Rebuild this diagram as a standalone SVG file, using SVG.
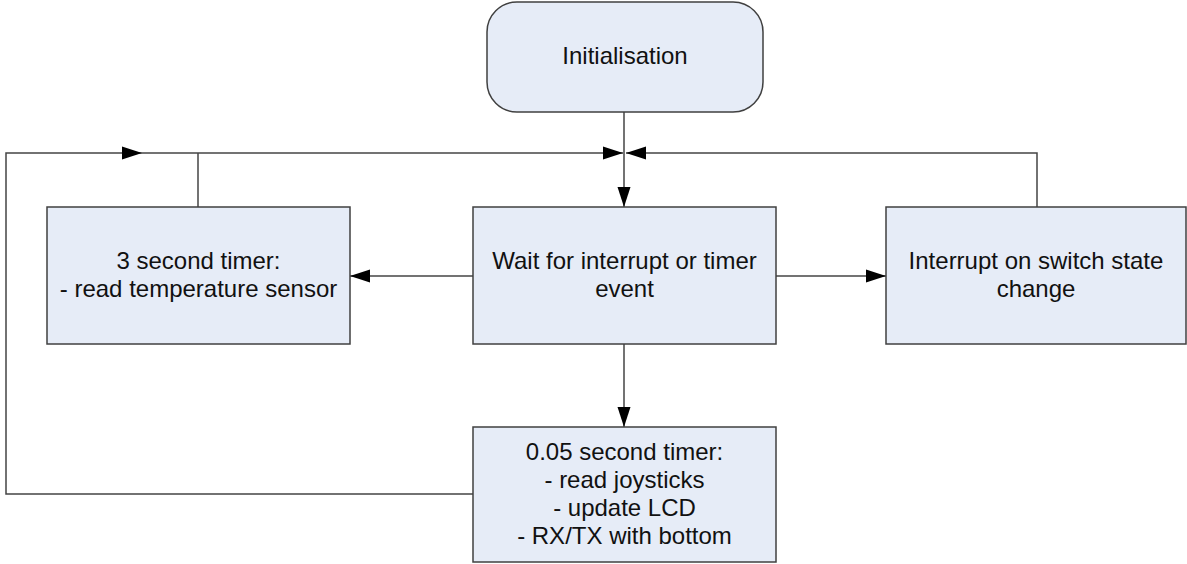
<svg xmlns="http://www.w3.org/2000/svg" width="1187" height="564" viewBox="0 0 1187 564">
<style>
.box{fill:#E6ECF7;stroke:#404040;stroke-width:1.5}
.conn{fill:none;stroke:#444;stroke-width:1.5}
.t{font-family:"Liberation Sans",Arial,sans-serif;font-size:24px;fill:#111;text-anchor:middle}
</style>
<defs>
<marker id="ah" markerUnits="userSpaceOnUse" markerWidth="20" markerHeight="14" refX="20" refY="6.5" orient="auto" viewBox="0 0 20 13">
<path d="M0,0 L20,6.5 L0,13 z" fill="#000"/>
</marker>
</defs>
<rect width="1187" height="564" fill="#fff"/>
<g id="connectors">
<path class="conn" d="M624,112 V207" marker-end="url(#ah)"/>
<path class="conn" d="M473,494 H6 V153 H142" marker-end="url(#ah)"/>
<path class="conn" d="M142,153 H623" marker-end="url(#ah)"/>
<path class="conn" d="M198,207 V153"/>
<path class="conn" d="M1037,207 V153 H626" marker-end="url(#ah)"/>
<path class="conn" d="M473,276 H350" marker-end="url(#ah)"/>
<path class="conn" d="M776,276 H886" marker-end="url(#ah)"/>
<path class="conn" d="M624,344 V427" marker-end="url(#ah)"/>
</g>
<g id="init">
<rect class="box" x="487" y="2" width="276" height="110" rx="30" ry="30"/>
<text class="t" x="625" y="64">Initialisation</text>
</g>
<g id="wait">
<rect class="box" x="473" y="207" width="303" height="137"/>
<text class="t" x="624.5" y="269">Wait for interrupt or timer</text>
<text class="t" x="624.5" y="297">event</text>
</g>
<g id="timer3">
<rect class="box" x="47" y="207" width="303" height="137"/>
<text class="t" x="198.5" y="269">3 second timer:</text>
<text class="t" x="198.5" y="297">- read temperature sensor</text>
</g>
<g id="interrupt">
<rect class="box" x="886" y="207" width="300" height="137"/>
<text class="t" x="1036" y="269">Interrupt on switch state</text>
<text class="t" x="1036" y="297">change</text>
</g>
<g id="timer005">
<rect class="box" x="473" y="427" width="303" height="135"/>
<text class="t" x="624.5" y="460">0.05 second timer:</text>
<text class="t" x="624.5" y="488">- read joysticks</text>
<text class="t" x="624.5" y="516">- update LCD</text>
<text class="t" x="624.5" y="544">- RX/TX with bottom</text>
</g>
</svg>
